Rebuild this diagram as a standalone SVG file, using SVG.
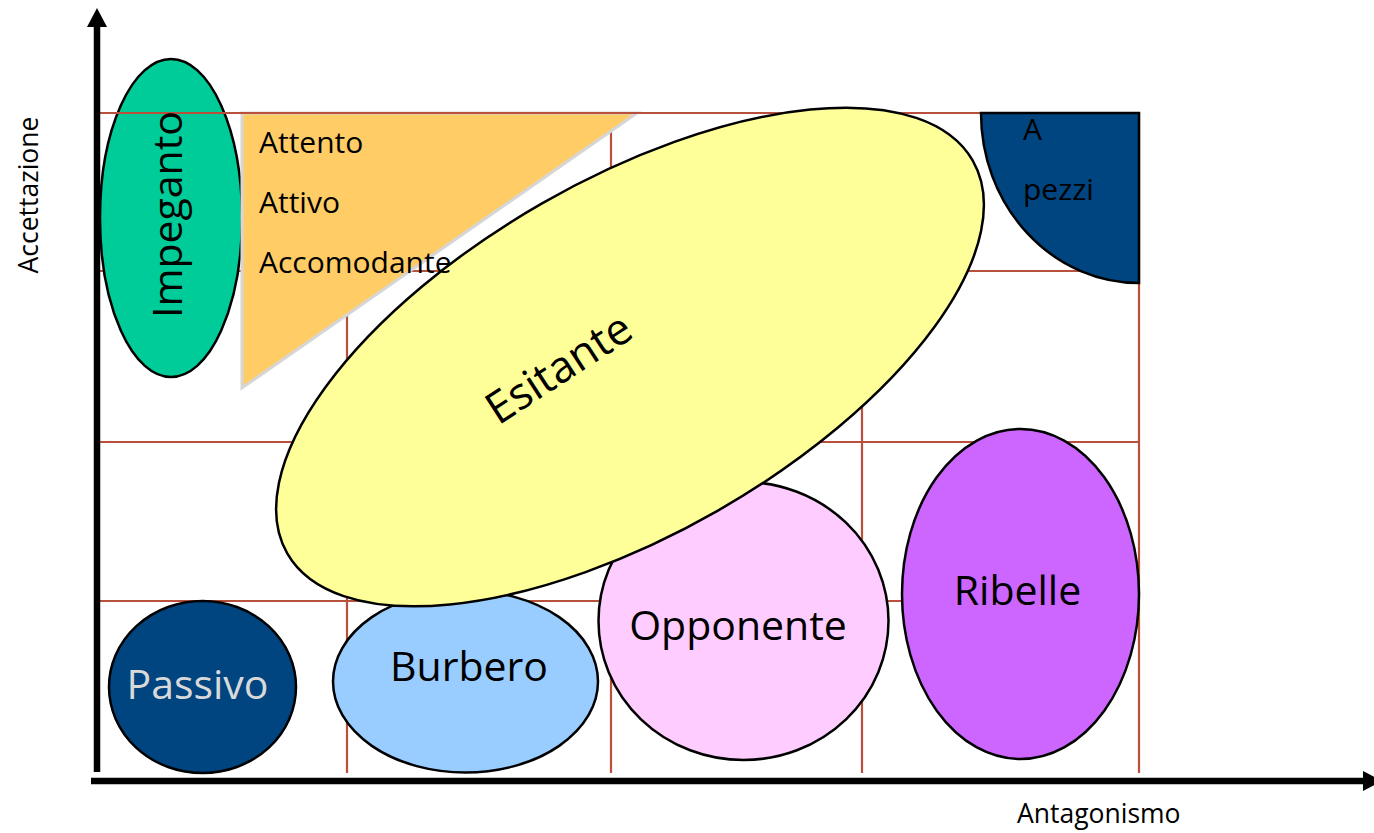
<svg xmlns="http://www.w3.org/2000/svg" width="1374" height="833" viewBox="0 0 1374 833">
<style>
.grid{stroke:#B9503C;stroke-width:2.2;fill:none}
.shape{stroke:#000;stroke-width:2.5}
.t{font-family:"Open Sans","Noto Sans","Liberation Sans",sans-serif;fill:#000}
.big{font-size:41px;text-anchor:middle}
.mid{font-size:30px}
.small{font-size:26.5px}
</style>
<rect width="1374" height="833" fill="#fff"/>
<g id="grid" class="grid">
<line x1="97" y1="271" x2="1139" y2="271"/>
<line x1="97" y1="442" x2="1139" y2="442"/>
<line x1="97" y1="601" x2="1139" y2="601"/>
<line x1="347" y1="113" x2="347" y2="773"/>
<line x1="611" y1="113" x2="611" y2="773"/>
<line x1="862" y1="113" x2="862" y2="773"/>
<line x1="1139" y1="113" x2="1139" y2="773"/>
</g>
<g id="impeganto">
<ellipse class="shape" cx="171" cy="218" rx="71" ry="159" fill="#00CC99"/>
</g>
<g id="triangle">
<polygon points="242,113 637,113 242,388" fill="#FFCC66" stroke="#D6D6D6" stroke-width="3"/>
</g>
<line class="grid" x1="97" y1="113" x2="1139" y2="113"/>
<g id="impeganto-label">
<text class="t big" x="182" y="214.5" transform="rotate(-90 182 214.5)">Impeganto</text>
</g>
<g id="a-pezzi">
<path class="shape" d="M981,113 H1139 V283 A158 170 0 0 1 981,113 Z" fill="#004580"/>
<text class="t mid" x="1023" y="140">A</text>
<text class="t mid" x="1023" y="200">pezzi</text>
</g>
<g id="passivo">
<ellipse class="shape" cx="202.5" cy="687" rx="93.5" ry="86" fill="#004580"/>
<text class="t big" x="197.5" y="699" style="fill:#D9D9D9">Passivo</text>
</g>
<g id="burbero">
<ellipse class="shape" cx="465.5" cy="681.5" rx="132.5" ry="91" fill="#99CCFF"/>
<text class="t big" x="469" y="681">Burbero</text>
</g>
<g id="opponente">
<ellipse class="shape" cx="743.5" cy="621" rx="145" ry="139" fill="#FFCCFF"/>
<text class="t big" x="738" y="640">Opponente</text>
</g>
<g id="ribelle">
<ellipse class="shape" cx="1020.5" cy="594" rx="118.5" ry="165" fill="#CC66FF"/>
<text class="t big" x="1017.5" y="605">Ribelle</text>
</g>
<g id="esitante">
<ellipse class="shape" cx="630" cy="357" rx="395" ry="177" fill="#FFFF99" transform="rotate(-29.8 630 357)"/>
<text class="t" x="567" y="381" font-size="44" text-anchor="middle" transform="rotate(-33 567 381)">Esitante</text>
</g>
<g id="triangle-labels">
<text class="t mid" x="259" y="153">Attento</text>
<text class="t mid" x="259" y="213">Attivo</text>
<text class="t mid" x="259" y="273">Accomodante</text>
</g>
<g id="axes">
<line x1="97" y1="772" x2="97" y2="26" stroke="#000" stroke-width="6.5"/>
<polygon points="87,27 97,8 107,27" fill="#000"/>
<line x1="91" y1="781" x2="1364" y2="781" stroke="#000" stroke-width="6.5"/>
<polygon points="1363,771 1382,781 1363,791" fill="#000"/>
</g>
<g id="axis-labels">
<text class="t small" x="38" y="195" text-anchor="middle" transform="rotate(-90 38 195)">Accettazione</text>
<text class="t small" x="1017" y="823">Antagonismo</text>
</g>
</svg>
